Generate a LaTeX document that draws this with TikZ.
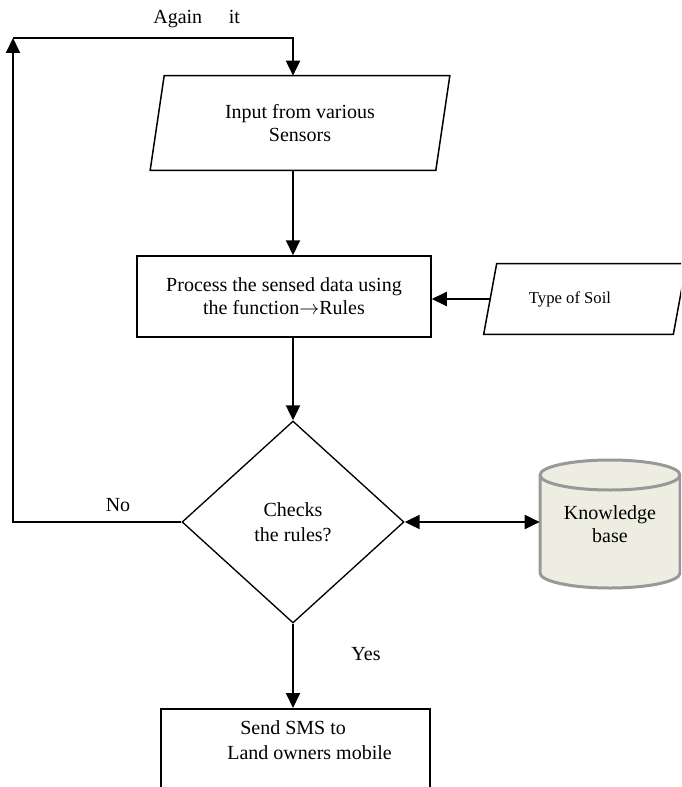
\documentclass[tikz,border=0pt]{standalone}
\usepackage{fontspec}
\setmainfont{Liberation Serif}
\usetikzlibrary{shapes.geometric,arrows.meta,calc}
\definecolor{kbfill}{RGB}{238,237,226}
\definecolor{kbline}{RGB}{152,152,152}
\tikzset{
  box/.style={draw, line width=0.9pt, text centered},
  datain/.style={inner sep=0pt, align=center},
  paraline/.style={draw, line width=0.9pt, line join=miter},
  decide/.style={draw, line width=0.8pt, diamond, inner sep=0pt, align=center},
  dbshape/.style={draw=kbline, fill=kbfill, line width=1.8pt},
  arr/.style={line width=1.2pt, -{Triangle[length=9pt,width=8.4pt]}},
  biarr/.style={line width=1.2pt, {Triangle[length=9pt,width=8.4pt]}-{Triangle[length=9pt,width=8.4pt]}},
}
\begin{document}
\begin{tikzpicture}[x=0.6pt, y=-0.6pt, font=\fontsize{12}{13.8}\selectfont]
\clip (0,0) rectangle (681,787);

%nodes
\node [datain, minimum width=171pt, minimum height=56.4pt] (input) at (300,123) {Input from various\\Sensors};
\draw [paraline] ($(input.south west)+(-7,0)$) -- ($(input.north west)+(7,0)$) -- ($(input.north east)+(7,0)$) -- ($(input.south east)+(-7,0)$) -- cycle;
\coordinate (inbot) at ($(input.south)+(-7,0)$);

\node [box, minimum width=176.4pt, minimum height=48.6pt, align=center] (process) at (284,296.5) {Process the sensed data using\\the function$\rightarrow$Rules};

\node [datain, minimum width=113.4pt, minimum height=42pt, font=\fontsize{10}{12}\selectfont] (soil) at (585,299) {Type of Soil\hspace*{18pt}};
\draw [paraline] ($(soil.south west)+(-6.5,0)$) -- ($(soil.north west)+(6.5,0)$) -- ($(soil.north east)+(6.5,0)$) -- ($(soil.south east)+(-6.5,0)$) -- cycle;

\node [decide, minimum width=133.2pt, minimum height=121.2pt, font=\fontsize{12}{15}\selectfont] (check) at (293,522) {Checks\\the rules?};

%knowledge base
\coordinate (kbc) at (610,524);
\draw [dbshape] ($(kbc)+(-70,-49)$) -- ($(kbc)+(-70,49)$) arc[start angle=180, end angle=360, x radius=42pt, y radius=9pt] -- ($(kbc)+(70,-49)$) arc[start angle=0, end angle=180, x radius=42pt, y radius=9pt] -- cycle;
\draw [dbshape, fill=none] ($(kbc)+(-70,-49)$) arc[start angle=180, end angle=360, x radius=42pt, y radius=9pt];
\node [minimum width=84pt, minimum height=76.8pt, align=center] (kb) at (kbc) {Knowledge\\base};

\node [box, anchor=north, minimum width=161.4pt, minimum height=60pt] (sms) at (295.5,708) {};
\node [anchor=north west, inner sep=0pt, align=left, font=\fontsize{12}{15}\selectfont] (smstext) at (227,720) {\hspace*{7.8pt}Send SMS to\\Land owners mobile};

%labels
\node [anchor=base west, inner sep=0pt] (again) at (153,24) {Again\hspace{16pt}it};
\node [anchor=base, inner sep=0pt] (no) at (118,511) {No};
\node [anchor=base, inner sep=0pt] (yes) at (366,660) {Yes};

%arrows
\coordinate (loop) at (13,38);
\draw [arr] (check.west) -- (check.west -| loop) -- (loop);
\draw [arr] (loop) -| (inbot |- input.north);
\draw [arr] (inbot) -- (inbot |- process.north);
\draw [arr] (soil.west) -- (soil.west -| process.east);
\draw [arr] (process.south -| check.north) -- (check.north);
\draw [biarr] (check.east) -- (check.east -| kb.west);
\draw [arr] (check.south) -- (check.south |- sms.north);

\end{tikzpicture}
\end{document}
